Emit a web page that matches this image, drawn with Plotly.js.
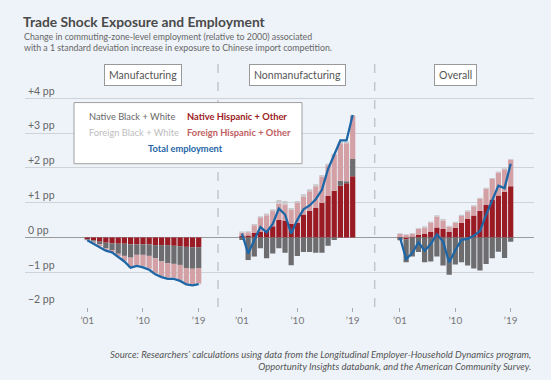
<!DOCTYPE html>
<html>
<head>
<meta charset="utf-8">
<script src="https://cdn.plot.ly/plotly-3.0.1.min.js"></script>
<style>html,body{margin:0;padding:0;background:#eef3f9;}#chart{width:551px;height:380px;}</style>
</head>
<body>
<div id="chart"></div>
<script>
const years = [2001,2002,2003,2004,2005,2006,2007,2008,2009,2010,2011,2012,2013,2014,2015,2016,2017,2018,2019];
const xTickVals = [2001, 2010, 2019];
const xTickText = ["’01", "’10", "’19"];
const yTickVals = [-2,-1,0,1,2,3,4];
const yTickText = ["−2 pp","−1 pp","0 pp","+1 pp","+2 pp","+3 pp","+4 pp"];
const panelNames = ["Manufacturing", "Nonmanufacturing", "Overall"];
const seriesNames = ["Native Hispanic + Other", "Native Black + White", "Foreign Hispanic + Other", "Foreign Black + White"];

// Manufacturing
const mfgNatHisp = [-0.05,-0.08,-0.12,-0.15,-0.17,-0.18,-0.18,-0.20,-0.20,-0.20,-0.20,-0.22,-0.22,-0.22,-0.24,-0.25,-0.27,-0.28,-0.28];
const mfgNatBW   = [-0.02,-0.04,-0.07,-0.16,-0.19,-0.29,-0.35,-0.38,-0.30,-0.30,-0.33,-0.38,-0.47,-0.52,-0.52,-0.54,-0.61,-0.62,-0.60];
const mfgForHisp = [-0.01,-0.05,-0.06,-0.06,-0.06,-0.07,-0.14,-0.26,-0.29,-0.33,-0.37,-0.43,-0.42,-0.42,-0.40,-0.43,-0.44,-0.45,-0.44];
const mfgForBW   = [0,-0.01,-0.01,-0.01,-0.01,-0.01,-0.02,-0.03,-0.03,-0.03,-0.03,-0.03,-0.03,-0.03,-0.03,-0.03,-0.03,-0.03,-0.03];
const mfgTotal   = [-0.08,-0.18,-0.26,-0.38,-0.43,-0.55,-0.69,-0.87,-0.82,-0.86,-0.93,-1.06,-1.14,-1.19,-1.19,-1.25,-1.35,-1.38,-1.34];

// Nonmanufacturing
const nmNatHisp = [0.05,0.06,0.13,0.17,0.22,0.32,0.51,0.49,0.39,0.42,0.66,0.76,0.85,1.00,1.19,1.34,1.49,1.56,1.76];
const nmNatBW   = [-0.07,-0.65,-0.55,-0.31,-0.60,-0.46,-0.31,-0.44,-0.80,-0.53,-0.42,-0.42,-0.44,-0.44,-0.24,-0.07,0.14,0.06,0.50];
const nmForHisp = [0.09,0.09,0.22,0.39,0.42,0.44,0.47,0.46,0.41,0.58,0.52,0.57,0.62,0.75,0.89,1.03,1.08,1.09,1.23];
const nmForBW   = [0.03,0.03,0.04,0.05,0.05,0.05,0.10,0.10,0.05,0.05,0.06,0.06,0.06,0.05,0.04,0.04,0.04,0.04,0.03];
const nmTotal   = [0.11,-0.46,-0.07,0.30,0.15,0.39,0.83,0.66,0.11,0.51,0.81,0.92,1.10,1.37,1.97,2.36,2.79,2.79,3.52];

// Overall
const ovNatHisp = [0.02,-0.05,0.03,0.07,0.10,0.16,0.29,0.24,0.16,0.28,0.42,0.53,0.63,0.77,0.94,1.09,1.21,1.31,1.47];
const ovNatBW   = [-0.08,-0.66,-0.55,-0.42,-0.71,-0.69,-0.55,-0.81,-1.07,-0.78,-0.71,-0.81,-0.89,-0.95,-0.76,-0.60,-0.41,-0.59,-0.12];
const ovForHisp = [0.08,0.07,0.08,0.18,0.19,0.27,0.31,0.25,0.15,0.14,0.20,0.22,0.27,0.34,0.46,0.59,0.66,0.65,0.77];
const ovForBW   = [0.02,0.02,0.02,0.02,0.03,0.03,0.04,0.04,0.03,0.03,0.03,0.03,0.03,0.03,0.03,0.03,0.03,0.03,0.02];
const ovTotal   = [0.00,-0.62,-0.45,-0.14,-0.38,-0.19,0.09,-0.12,-0.72,-0.36,-0.07,-0.04,0.05,0.18,0.65,1.09,1.49,1.42,2.12];

const colors = ["#9b1b24", "#6d6d70", "#d3a1a5", "#c9c9cb"];
const lineColor = "#1f66a6";
const FONT = "Lato, sans-serif";

const panels = [
  {xa: "x",  series: [mfgNatHisp, mfgNatBW, mfgForHisp, mfgForBW], total: mfgTotal},
  {xa: "x2", series: [nmNatHisp, nmNatBW, nmForHisp, nmForBW], total: nmTotal},
  {xa: "x3", series: [ovNatHisp, ovNatBW, ovForHisp, ovForBW], total: ovTotal}
];

const traces = [];
panels.forEach(p => {
  p.series.forEach((s, i) => {
    traces.push({type: "bar", x: years, y: s, xaxis: p.xa, yaxis: "y", name: seriesNames[i],
      marker: {color: colors[i], line: {width: 0}}, hoverinfo: "skip"});
  });
});
panels.forEach(p => {
  traces.push({type: "scatter", mode: "lines", x: years, y: p.total, xaxis: p.xa, yaxis: "y",
    name: "Total employment", line: {color: lineColor, width: 2.3}, hoverinfo: "skip"});
});

const Y0 = -2, Y1 = 4.5;
const PPX = 34.7;              // pixels per pp
const L = 25, R = 534, B = 307;
const T = B - (Y1 - Y0) * PPX;
const W = R - L, H = B - T;
const px = v => (v - L) / W;
const py = v => (B - v) / H;
const d1 = px(218), d2 = px(374.7);

const xBase = {tickvals: xTickVals, ticktext: xTickText, ticks: "outside", ticklen: 4, tickcolor: "#aaa",
  showgrid: false, zeroline: false, showline: false, tickfont: {family: FONT, size: 10, color: "#777"}, fixedrange: true};

const annotations = [];
panels.forEach((p, i) => {
  annotations.push({xref: p.xa, yref: "paper", x: 2010, y: py(75), text: panelNames[i], showarrow: false,
    font: {family: FONT, size: 10.5, color: "#555"}, bgcolor: "#ffffff", bordercolor: "#999", borderwidth: 1,
    borderpad: 4, xanchor: "center", yanchor: "middle"});
});
annotations.push({xref: "paper", yref: "paper", x: px(22), y: py(42.5), xanchor: "left", yanchor: "middle", align: "left",
  text: "Change in commuting-zone-level employment (relative to 2000) associated<br>with a 1 standard deviation increase in exposure to Chinese import competition.",
  showarrow: false, font: {family: FONT, size: 8.8, color: "#666"}});
annotations.push({xref: "paper", yref: "paper", x: px(533), y: py(360), xanchor: "right", yanchor: "middle", align: "right",
  text: "<i>Source: Researchers’ calculations using data from the Longitudinal Employer-Household Dynamics program,<br>Opportunity Insights databank, and the American Community Survey.</i>",
  showarrow: false, font: {family: FONT, size: 9.5, color: "#555"}});
// legend texts
const legendItems = [
  {t: "Native Black + White", x: 86.7, y: 117, c: "#666", b: false, a: "left"},
  {t: "Native Hispanic + Other", x: 185, y: 117, c: "#9b1b24", b: true, a: "left"},
  {t: "Foreign Black + White", x: 86.7, y: 133, c: "#bdbdbd", b: false, a: "left"},
  {t: "Foreign Hispanic + Other", x: 185, y: 133, c: "#c0605f", b: true, a: "left"},
  {t: "Total employment", x: 185, y: 149, c: lineColor, b: true, a: "center"}
];
legendItems.forEach(it => {
  annotations.push({xref: "paper", yref: "paper", x: px(it.x), y: py(it.y), xanchor: it.a, yanchor: "middle",
    text: it.b ? "<b>" + it.t + "</b>" : it.t, showarrow: false, font: {family: FONT, size: 9.3, color: it.c}});
});

const shapes = [
  {type: "line", xref: "paper", yref: "paper", x0: d1, x1: d1, y0: 0, y1: py(62), line: {color: "#c4c6c9", width: 1.5, dash: "dash"}, layer: "above"},
  {type: "line", xref: "paper", yref: "paper", x0: d2, x1: d2, y0: 0, y1: py(62), line: {color: "#c4c6c9", width: 1.5, dash: "dash"}, layer: "above"},
  {type: "rect", xref: "paper", yref: "paper", x0: px(74), x1: px(302), y0: py(164), y1: py(103), fillcolor: "#ffffff", line: {color: "#a0a0a0", width: 1}, layer: "above"}
];

const layout = {
  width: 551, height: 380,
  paper_bgcolor: "#eef3f9", plot_bgcolor: "rgba(0,0,0,0)",
  margin: {l: L, r: 551 - R, t: T, b: 380 - B, pad: 0},
  barmode: "relative", bargap: 0.15, showlegend: false,
  font: {family: FONT},
  title: {text: "<b>Trade Shock Exposure and Employment</b>", x: 23/551, xanchor: "left", xref: "container",
    y: 1 - 22/380, yanchor: "middle", yref: "container", font: {family: FONT, size: 13.8, color: "#4a4a4a"}},
  xaxis:  Object.assign({}, xBase, {domain: [0, d1], range: [1990.94, 2022.12], anchor: "y"}),
  xaxis2: Object.assign({}, xBase, {domain: [d1, d2], range: [1997.1, 2022.58], anchor: "y"}),
  xaxis3: Object.assign({}, xBase, {domain: [d2, 1], range: [1996.89, 2022.79], anchor: "y"}),
  yaxis: {range: [Y0, Y1], tickvals: yTickVals, ticktext: yTickText, ticklabelposition: "inside top", ticklabelstandoff: 0,
    showgrid: true, gridcolor: "#cfd3d8", gridwidth: 1, zeroline: true, zerolinecolor: "#9a9a9a", zerolinewidth: 1.5,
    showline: false, ticks: "", tickfont: {family: FONT, size: 10.5, color: "#666"}, fixedrange: true},
  annotations: annotations, shapes: shapes
};

Plotly.newPlot("chart", traces, layout, {displayModeBar: false, staticPlot: true});
</script>
</body>
</html>
